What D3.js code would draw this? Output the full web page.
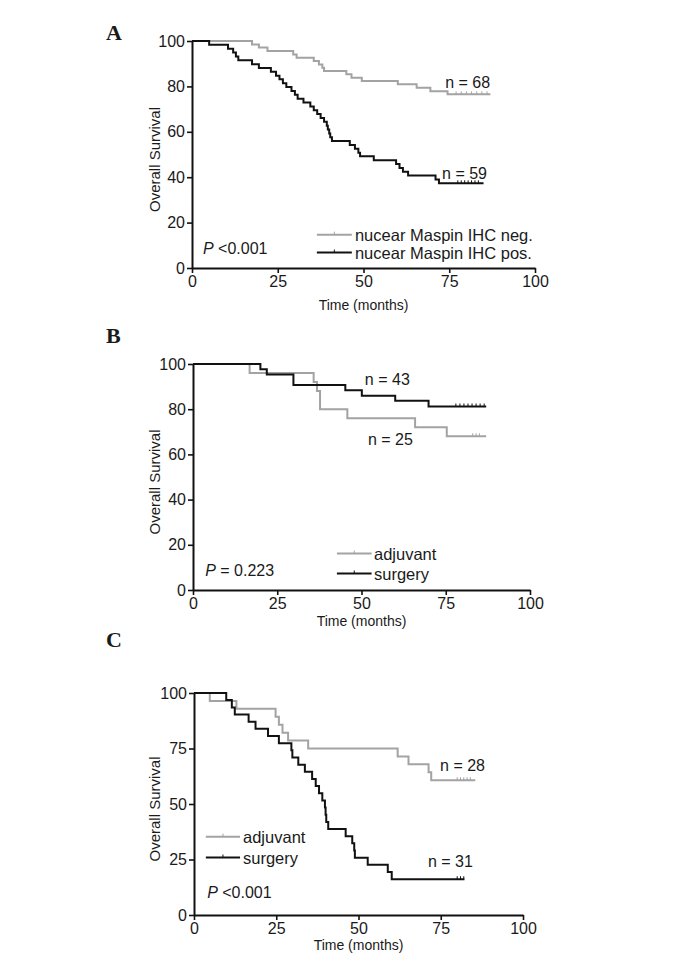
<!DOCTYPE html>
<html>
<head>
<meta charset="utf-8">
<script src="https://cdn.jsdelivr.net/npm/d3@7"></script>
<style>
  body { margin: 0; background: #fff; }
  text { font-family: "Liberation Sans", Arial, sans-serif; fill: #1a1a1a; }
</style>
</head>
<body>
<svg id="chart" width="688" height="964"></svg>
<script>
// ---- Panel A: nuclear Maspin IHC ----
const aNegTimes = [0, 17.5, 19.5, 22, 29.5, 30.5, 35.5, 37, 38, 38.5, 45, 46.5, 49.5, 60, 65.5, 69.5, 74.5];
const aNegSurv  = [100, 98.5, 97.1, 95.6, 94.1, 92.6, 91.2, 89.7, 88.2, 86.8, 85.3, 83.8, 82.4, 80.9, 79.4, 77.9, 76.5];
const aNegEnd = 87;
const aNegCensor = [77, 78.5, 80, 81.5, 83, 84.5, 86];

const aPosTimes = [0, 5, 10.5, 12, 12.8, 13.5, 17.5, 19.5, 23, 24.5, 25.5, 26.5, 27.5, 29, 30, 30.8, 32.5, 34.5, 35.5, 36.5, 37.5, 38.5, 39.3, 39.6, 40, 40.3, 40.8, 46, 47.5, 48.5, 49, 53, 59.5, 60.5, 61.5, 63, 71, 72];
const aPosSurv  = [100, 98.3, 96.6, 94.9, 93.2, 91.5, 89.8, 88.1, 86.4, 84.7, 83.1, 81.4, 79.7, 78, 76.3, 74.6, 72.9, 71.2, 69.5, 67.8, 66.1, 64.4, 62.7, 61, 59.3, 57.6, 55.9, 54.2, 52.5, 50.8, 49.2, 47.5, 45.8, 44.1, 42.4, 40.7, 39, 37.3];
const aPosEnd = 85;
const aPosCensor = [77.5, 78.5, 79.5, 80.5, 81.5, 82.5, 83.5];

// ---- Panel B: adjuvant vs surgery ----
const bAdjTimes = [0, 16.8, 35.8, 36.8, 37.7, 45.8, 65.9, 75.3];
const bAdjSurv  = [100, 96, 92, 88, 80, 76, 72, 68];
const bAdjEnd = 87;
const bAdjCensor = [83, 84, 85];

const bSurTimes = [0, 20, 21.9, 29.8, 45.2, 50.1, 60, 69.9];
const bSurSurv  = [100, 97.7, 95.3, 90.7, 88.4, 86, 83.7, 81.2];
const bSurEnd = 87;
const bSurCensor = [78, 79.2, 80.4, 81.6, 82.8, 84, 85.2, 86.4];

// ---- Panel C: adjuvant vs surgery ----
const cAdjTimes = [0, 4.8, 12.9, 24.8, 25.8, 26.9, 28.6, 34.7, 61.9, 65.2, 71.3, 72.1];
const cAdjSurv  = [100, 96.4, 92.9, 89.3, 85.7, 82.1, 78.6, 75, 71.4, 67.9, 64.3, 60.7];
const cAdjEnd = 85.5;
const cAdjCensor = [80, 81, 82, 83, 84];

const cSurTimes = [0, 9.8, 11.5, 12.4, 16.6, 18.7, 22.5, 25.8, 29.6, 29.9, 31.7, 33.7, 35.9, 37, 38, 39, 39.8, 40, 40.2, 40.8, 46.1, 48.1, 48.7, 48.9, 52.8, 58.9, 60.1];
const cSurSurv  = [100, 96.8, 93.5, 90.3, 87.1, 83.9, 80.6, 77.4, 74.2, 71, 67.7, 64.5, 61.3, 58.1, 54.8, 51.6, 48.4, 45.2, 41.9, 38.7, 35.5, 32.3, 29, 25.8, 22.6, 19.4, 16.1];
const cSurEnd = 82.2;
const cSurCensor = [80, 81, 82];

const xTicks = [0, 25, 50, 75, 100];
const yTicksAB = [0, 20, 40, 60, 80, 100];
const yTicksC = [0, 25, 50, 75, 100];

const grey = "#a3a3a3";
const black = "#111";

const panels = [
  {
    letter: "A", letterPos: [106, 40],
    xRange: [192, 535], yRange: [268, 41], yTicks: yTicksAB,
    series: [
      { times: aNegTimes, surv: aNegSurv, end: aNegEnd, censor: aNegCensor, color: grey, label: "nucear Maspin IHC neg." },
      { times: aPosTimes, surv: aPosSurv, end: aPosEnd, censor: aPosCensor, color: black, label: "nucear Maspin IHC pos." }
    ],
    nLabels: [["n = 68", 73.8, 79.3], ["n = 59", 72.9, 39.2]],
    pText: [" <0.001", 3.2, 6.2],
    legend: { x0: 36.4, x1: 46.6, tx: 47.5, rows: [14.7, 6.8] },
    titleY: 310
  },
  {
    letter: "B", letterPos: [106, 343],
    xRange: [193, 530], yRange: [590, 364], yTicks: yTicksAB,
    series: [
      { times: bAdjTimes, surv: bAdjSurv, end: bAdjEnd, censor: bAdjCensor, color: grey, label: "adjuvant" },
      { times: bSurTimes, surv: bSurSurv, end: bSurEnd, censor: bSurCensor, color: black, label: "surgery" }
    ],
    nLabels: [["n = 43", 51, 90.7], ["n = 25", 51.9, 64.2]],
    pText: [" = 0.223", 3.6, 6.2],
    legend: { x0: 42.7, x1: 53, tx: 53.7, rows: [16.1, 7.3] },
    titleY: 626
  },
  {
    letter: "C", letterPos: [106, 647],
    xRange: [194, 523], yRange: [915, 693], yTicks: yTicksC,
    series: [
      { times: cAdjTimes, surv: cAdjSurv, end: cAdjEnd, censor: cAdjCensor, color: grey, label: "adjuvant" },
      { times: cSurTimes, surv: cSurSurv, end: cSurEnd, censor: cSurCensor, color: black, label: "surgery" }
    ],
    nLabels: [["n = 28", 74.8, 64.9], ["n = 31", 71.1, 21.6]],
    pText: [" <0.001", 4, 7.7],
    legend: { x0: 3.6, x1: 14, tx: 14.9, rows: [35.3, 25.9] },
    titleY: 950
  }
];

const svg = d3.select("#chart");

panels.forEach(p => {
  const g = svg.append("g");
  const x = d3.scaleLinear().domain([0, 100]).range(p.xRange);
  const y = d3.scaleLinear().domain([0, 100]).range(p.yRange);

  // panel letter
  g.append("text")
    .attr("x", p.letterPos[0]).attr("y", p.letterPos[1])
    .style("font-family", "'Liberation Serif', 'Times New Roman', serif")
    .style("font-weight", "bold").style("font-size", "22px")
    .text(p.letter);

  // axes
  const yAxis = g.append("g")
    .attr("transform", `translate(${p.xRange[0]},0)`)
    .call(d3.axisLeft(y).tickValues(p.yTicks).tickSize(5).tickSizeOuter(0).tickPadding(2));
  const xAxis = g.append("g")
    .attr("transform", `translate(0,${p.yRange[0]})`)
    .call(d3.axisBottom(x).tickValues(xTicks).tickSize(5).tickSizeOuter(0).tickPadding(3));
  [yAxis, xAxis].forEach(a => {
    a.select(".domain").attr("stroke", "#111").attr("stroke-width", 2);
    a.selectAll(".tick line").attr("stroke", "#111").attr("stroke-width", 1.6);
    a.selectAll("text").style("font-size", "16px").attr("fill", "#1a1a1a");
  });

  // axis titles
  g.append("text")
    .attr("transform", `translate(160,${(p.yRange[0] + p.yRange[1]) / 2 + 5}) rotate(-90)`)
    .attr("text-anchor", "middle").style("font-size", "15px")
    .text("Overall  Survival");
  g.append("text")
    .attr("x", (p.xRange[0] + p.xRange[1]) / 2).attr("y", p.titleY)
    .attr("text-anchor", "middle").style("font-size", "14px")
    .text("Time (months)");

  // curves
  const line = d3.line().x(d => x(d[0])).y(d => y(d[1])).curve(d3.curveStepAfter);
  p.series.forEach(s => {
    const pts = s.times.map((t, i) => [t, s.surv[i]]);
    pts.push([s.end, s.surv[s.surv.length - 1]]);
    g.append("path").datum(pts)
      .attr("fill", "none").attr("stroke", s.color).attr("stroke-width", 2)
      .attr("d", line);
    const last = s.surv[s.surv.length - 1];
    g.selectAll(null).data(s.censor).enter().append("line")
      .attr("x1", d => x(d)).attr("x2", d => x(d))
      .attr("y1", y(last)).attr("y2", y(last) - 3)
      .attr("stroke", s.color).attr("stroke-width", 1);
  });

  // n labels
  p.nLabels.forEach(n => {
    g.append("text").attr("x", x(n[1])).attr("y", y(n[2]))
      .style("font-size", "16px").text(n[0]);
  });

  // P value
  const pt = g.append("text").attr("x", x(p.pText[1])).attr("y", y(p.pText[2]))
    .style("font-size", "16px");
  pt.append("tspan").style("font-style", "italic").text("P");
  pt.append("tspan").text(p.pText[0]);

  // legend
  p.series.forEach((s, i) => {
    const ly = y(p.legend.rows[i]);
    g.append("line")
      .attr("x1", x(p.legend.x0)).attr("x2", x(p.legend.x1))
      .attr("y1", ly).attr("y2", ly)
      .attr("stroke", s.color).attr("stroke-width", 2);
    g.append("line")
      .attr("x1", (x(p.legend.x0) + x(p.legend.x1)) / 2).attr("x2", (x(p.legend.x0) + x(p.legend.x1)) / 2)
      .attr("y1", ly).attr("y2", ly - 3)
      .attr("stroke", s.color).attr("stroke-width", 1);
    g.append("text").attr("x", x(p.legend.tx)).attr("y", ly + 6)
      .style("font-size", "16.5px").text(s.label);
  });
});
</script>
</body>
</html>
